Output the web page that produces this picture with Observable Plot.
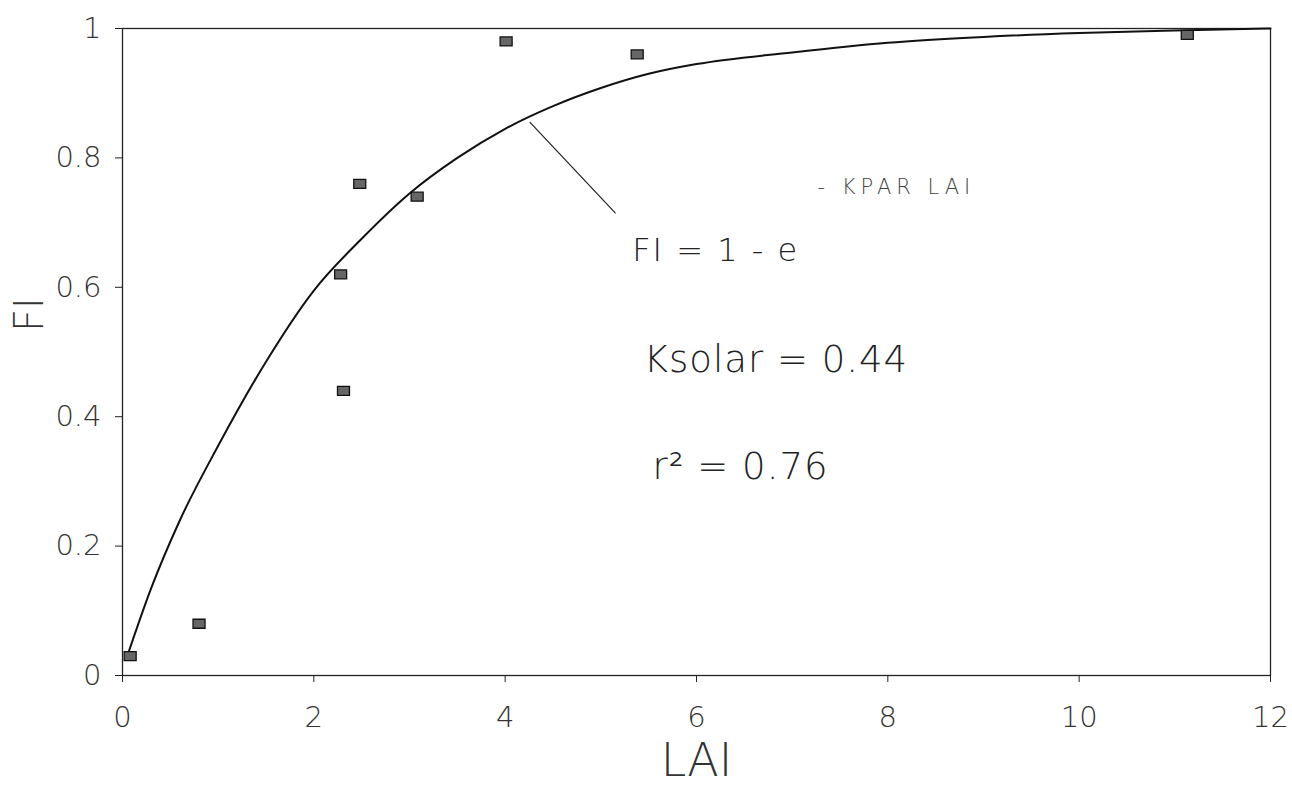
<!DOCTYPE html>
<html>
<head>
<meta charset="utf-8">
<script src="https://cdn.jsdelivr.net/npm/d3@7"></script>
<script src="https://cdn.jsdelivr.net/npm/@observablehq/plot@0.6"></script>
<style>
  html, body { margin: 0; padding: 0; background: #fff; }
  #chart { width: 1292px; height: 792px; }
  .sp1 text { letter-spacing: 1px; }
  .sp2 text { letter-spacing: 2px; }
  .sp5 text { letter-spacing: 5px; }
</style>
</head>
<body>
<div id="chart"></div>
<script>
// Observed points (LAI, FI)
const obsLAI = [0.08, 0.80, 2.28, 2.31, 2.48, 3.08, 4.01, 5.38, 11.13];
const obsFI  = [0.03, 0.08, 0.62, 0.44, 0.76, 0.74, 0.98, 0.96, 0.99];

// Fitted curve
const curveLAI = [0.05, 0.3, 0.6, 1.0, 1.5, 2.0, 2.5, 3.0, 3.5, 4.0, 4.5, 5.0, 5.5, 6.0, 7.0, 8.0, 9.0, 10.0, 11.0, 12.0];
const curveFI  = [0.03, 0.135, 0.24, 0.355, 0.485, 0.595, 0.675, 0.745, 0.80, 0.845, 0.88, 0.908, 0.93, 0.945, 0.963, 0.978, 0.987, 0.993, 0.997, 1.0];

// Leader line from the curve to the equation
const leaderLAI = [4.26, 5.15];
const leaderFI  = [0.855, 0.715];

// Tick values
const xTicks = [0, 2, 4, 6, 8, 10, 12];
const yTicks = [0, 0.2, 0.4, 0.6, 0.8, 1];
const yTickLabels = ["0", "0.2", "0.4", "0.6", "0.8", "1"];

// Annotation texts
const annText = ["FI = 1 - e", "- KPAR LAI", "Ksolar = 0.44", "r\u00B2 = 0.76"];
const annLAI  = [6.2, 8.09, 6.83, 6.46];
const annFI   = [0.657, 0.755, 0.487, 0.322];
const annSize = [32, 21, 37, 37];
const annClass = ["sp2", "sp5", "sp1", "sp1"];

const obs = obsLAI.map((x, i) => ({x, y: obsFI[i]}));
const curve = curveLAI.map((x, i) => ({x, y: curveFI[i]}));
const leader = leaderLAI.map((x, i) => ({x, y: leaderFI[i]}));
const ann = annText.map((t, i) => ({t, x: annLAI[i], y: annFI[i], s: annSize[i], c: annClass[i]}));

const font = "'DejaVu Sans', 'Liberation Sans', sans-serif";
const rectSymbol = {draw(ctx) { ctx.rect(-6, -4.5, 12, 9); }};

const chart = Plot.plot({
  width: 1292,
  height: 792,
  marginLeft: 122,
  marginRight: 22,
  marginTop: 28,
  marginBottom: 117,
  style: {fontFamily: font, background: "#fff", color: "#333"},
  x: {domain: [0, 12], label: null},
  y: {domain: [0, 1], label: null},
  marks: [
    Plot.frame({stroke: "#222", strokeWidth: 1.3}),
    Plot.axisX({ticks: xTicks, tickSize: 7, tickPadding: 24, fontSize: 29, fontWeight: 200, stroke: "#222", fill: "#333", label: null, tickFormat: d => String(d)}),
    Plot.axisY({ticks: yTicks, tickSize: 7, tickPadding: 14, fontSize: 29, fontWeight: 200, stroke: "#222", fill: "#333", label: null, tickFormat: (d, i) => yTickLabels[i]}),
    Plot.line(curve, {x: "x", y: "y", curve: "monotone-x", stroke: "#111", strokeWidth: 2}),
    Plot.line(leader, {x: "x", y: "y", stroke: "#222", strokeWidth: 1.2}),
    Plot.dot(obs, {x: "x", y: "y", symbol: rectSymbol, fill: "#666", stroke: "#111", strokeWidth: 1.3}),
    ...ann.map(d => Plot.text([d], {x: "x", y: "y", text: "t", fontSize: d.s, fontWeight: 200, className: d.c, fill: d.s < 25 ? "#444" : "#222", fontFamily: font})),
    Plot.text(["LAI"], {frameAnchor: "bottom", dy: 100, text: d => d, fontSize: 46, fontWeight: 200, fill: "#333"}),
    Plot.text(["FI"], {frameAnchor: "left", dx: -92, dy: -20, text: d => d, fontSize: 40, fontWeight: 200, rotate: -90, fill: "#333"})
  ]
});

document.getElementById("chart").appendChild(chart);
</script>
</body>
</html>
